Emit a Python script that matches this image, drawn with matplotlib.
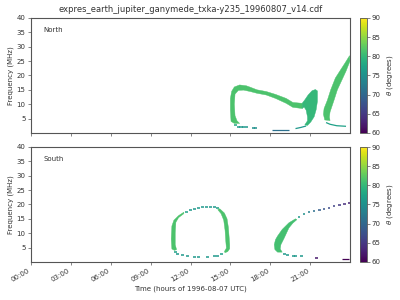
import numpy as np
import matplotlib
matplotlib.use('Agg')
import matplotlib.pyplot as plt
from matplotlib.colors import Normalize
from matplotlib.cm import ScalarMappable

# Chart text
title = 'expres_earth_jupiter_ganymede_txka-y235_19960807_v14.cdf'
hour_ticks = [0, 3, 6, 9, 12, 15, 18, 21]
hour_labels = ['%02d:00' % h for h in hour_ticks]
freq_ticks = [5, 10, 15, 20, 25, 30, 35, 40]
theta_ticks = [60, 65, 70, 75, 80, 85, 90]

# ---- North hemisphere: filled emission regions (time in hours, freq in MHz, theta in deg)
north_loop_t = [15.05, 15.0, 15.0, 15.1, 15.3, 15.7, 16.2, 16.5, 17.0, 17.7, 18.4, 19.2, 19.7, 20.4,
                20.4, 19.7, 19.2, 18.4, 17.7, 17.0, 16.5, 16.0, 15.6, 15.35, 15.3, 15.35, 15.5, 15.7, 15.3]
north_loop_f = [4.0, 8.0, 12.0, 14.5, 16.0, 16.7, 16.4, 15.9, 15.0, 14.4, 13.4, 12.0, 10.6, 10.3,
                8.5, 8.9, 10.3, 12.0, 13.2, 13.8, 14.4, 14.9, 14.8, 13.5, 10.0, 6.0, 4.2, 3.3, 3.3]
north_loop_theta = 81.5

north_blob_t = [20.4, 20.6, 20.85, 21.15, 21.4, 21.55, 21.55, 21.45, 21.3, 21.05, 20.8, 20.6,
                20.8, 20.8, 20.7, 20.55, 20.4]
north_blob_f = [10.3, 11.5, 13.2, 14.7, 15.1, 14.6, 11.0, 8.0, 5.6, 3.8, 2.6, 2.8,
                4.2, 5.6, 7.9, 9.0, 8.5]
north_blob_theta = 80

north_arc_t = [22.1, 22.0, 22.05, 22.3, 22.55, 22.9, 23.3, 23.65, 23.97,
               24.0, 23.7, 23.35, 23.05, 22.8, 22.5, 22.45, 22.5]
north_arc_f = [4.5, 6.5, 8.5, 11.4, 15.0, 19.1, 22.0, 24.5, 26.9,
               25.0, 21.5, 18.0, 15.0, 11.4, 7.3, 5.5, 4.3]
north_arc_theta = 81.5

# North: thin / dashed traces
north_dash_t = [15.4, 15.6, 15.8, 16.0, 16.2, 16.75, 16.9]
north_dash_f = [2.6, 2.2, 2.0, 1.9, 1.9, 1.6, 1.6]
north_dash_theta = [78, 76, 76, 76, 76, 75, 75]

north_low_t = [18.1, 19.4]
north_low_f = [1.15, 1.15]
north_low_theta = 71

north_blob_tail_t = [19.9, 20.3, 20.7]
north_blob_tail_f = [1.5, 1.9, 2.4]
north_blob_tail_theta = 76

north_arc_tail_t = [22.2, 22.5, 23.0, 23.7]
north_arc_tail_f = [3.6, 3.0, 2.5, 2.3]
north_arc_tail_theta = 77

# ---- South hemisphere
south_left_t = [10.6, 10.55, 10.6, 10.75, 11.1, 11.5, 11.5, 11.1, 10.9, 10.85, 10.85, 10.95, 10.8]
south_left_f = [4.5, 8.0, 12.5, 14.5, 16.1, 17.3, 16.8, 15.4, 13.8, 10.0, 6.0, 4.3, 4.0]
south_left_theta = 81.5

south_right_t = [14.2, 14.55, 14.75, 14.85, 14.9, 14.95, 14.95, 14.8, 14.6,
                 14.55, 14.7, 14.65, 14.6, 14.5, 14.3, 14.05]
south_right_f = [18.5, 17.0, 15.0, 12.0, 9.0, 6.0, 4.6, 3.6, 3.2,
                 3.6, 4.8, 7.5, 11.0, 14.5, 16.8, 18.2]
south_right_theta = 81.5

south_band_t = [18.55, 18.35, 18.3, 18.4, 18.55, 18.9, 19.4, 19.9,
                20.0, 19.7, 19.4, 19.05, 18.8, 18.75, 18.9]
south_band_f = [3.4, 4.3, 6.0, 7.8, 9.0, 11.3, 13.6, 15.0,
                14.7, 13.5, 11.8, 8.3, 6.0, 4.5, 3.4]
south_band_theta = 81

# South: dashed traces
south_top_t = [11.7, 12.0, 12.3, 12.6, 12.9, 13.2, 13.5, 13.8, 14.05]
south_top_f = [17.5, 18.0, 18.4, 18.8, 19.0, 19.2, 19.2, 19.0, 18.7]
south_top_theta = [77, 76, 76, 76, 76, 76, 76, 76, 77]

south_bottom_t = [10.85, 11.05, 11.4, 11.8, 12.3, 12.6, 13.3, 13.8, 14.05, 14.35]
south_bottom_f = [3.6, 2.9, 2.3, 1.9, 1.8, 1.8, 1.8, 2.0, 2.2, 2.7]
south_bottom_theta = [77, 76, 76, 76, 76, 76, 76, 76, 76, 77]

south_tail_t = [20.15, 20.55, 20.9, 21.3, 21.7, 22.05, 22.4, 22.8, 23.2, 23.6, 23.95]
south_tail_f = [15.8, 16.8, 17.2, 17.7, 18.1, 18.5, 18.9, 19.3, 19.7, 20.2, 20.6]
south_tail_theta = [76, 75, 73, 71, 69, 68, 67, 66, 65, 64, 63]

south_low_t = [19.05, 19.3, 19.75, 19.9, 20.35, 21.45]
south_low_f = [2.6, 2.5, 2.2, 2.2, 2.0, 1.5]
south_low_theta = [76, 76, 76, 76, 76, 62]

south_end_t = [23.4, 23.95]
south_end_f = [1.1, 1.1]
south_end_theta = 60

# ---- Plot
cmap = plt.get_cmap('viridis')
norm = Normalize(vmin=60, vmax=90)
text_color = '#333333'
plt.rcParams['font.size'] = 5
plt.rcParams['axes.edgecolor'] = '#555555'
plt.rcParams['xtick.color'] = '#555555'
plt.rcParams['ytick.color'] = '#555555'
plt.rcParams['xtick.labelcolor'] = text_color
plt.rcParams['ytick.labelcolor'] = text_color

fig = plt.figure(figsize=(4, 3), dpi=100)
ax_n = fig.add_axes([0.0775, 0.557, 0.7975, 0.383])
ax_s = fig.add_axes([0.0775, 0.127, 0.7975, 0.383])
cax_n = fig.add_axes([0.9, 0.557, 0.017, 0.383])
cax_s = fig.add_axes([0.9, 0.127, 0.017, 0.383])


def fill_region(ax, t, f, theta):
    ax.fill(t, f, color=cmap(norm(theta)), lw=0.3, ec=cmap(norm(theta)))


def dash_points(ax, t, f, theta, size=5):
    ax.scatter(t, f, c=theta, cmap=cmap, norm=norm, marker='_', s=size, linewidths=1.1)


def thin_line(ax, t, f, theta, lw=0.9):
    ax.plot(t, f, color=cmap(norm(theta)), lw=lw, solid_capstyle='butt')


# North panel
fill_region(ax_n, north_loop_t, north_loop_f, north_loop_theta)
fill_region(ax_n, north_blob_t, north_blob_f, north_blob_theta)
fill_region(ax_n, north_arc_t, north_arc_f, north_arc_theta)
dash_points(ax_n, north_dash_t, north_dash_f, north_dash_theta)
thin_line(ax_n, north_low_t, north_low_f, north_low_theta)
thin_line(ax_n, north_blob_tail_t, north_blob_tail_f, north_blob_tail_theta)
thin_line(ax_n, north_arc_tail_t, north_arc_tail_f, north_arc_tail_theta)

# South panel
fill_region(ax_s, south_left_t, south_left_f, south_left_theta)
fill_region(ax_s, south_right_t, south_right_f, south_right_theta)
fill_region(ax_s, south_band_t, south_band_f, south_band_theta)
dash_points(ax_s, south_top_t, south_top_f, south_top_theta)
dash_points(ax_s, south_bottom_t, south_bottom_f, south_bottom_theta)
dash_points(ax_s, south_tail_t, south_tail_f, south_tail_theta, size=3)
dash_points(ax_s, south_low_t, south_low_f, south_low_theta)
thin_line(ax_s, south_end_t, south_end_f, south_end_theta)

for ax, name in [(ax_n, 'North'), (ax_s, 'South')]:
    ax.set_xlim(0, 24)
    ax.set_ylim(0, 40)
    ax.set_xticks(hour_ticks)
    ax.set_yticks(freq_ticks)
    ax.set_ylabel('Frequency (MHz)', fontsize=5, color=text_color, labelpad=1.5)
    ax.tick_params(length=2.5, width=0.5, pad=1.5)
    for sp in ax.spines.values():
        sp.set_linewidth(0.8)
    ax.text(0.04, 0.88, name, transform=ax.transAxes, fontsize=5, color=text_color)

ax_n.set_xticklabels([])
ax_s.set_xticklabels(hour_labels, rotation=30, ha='right')
ax_s.set_xlabel('Time (hours of 1996-08-07 UTC)', fontsize=5, color=text_color, labelpad=2)
ax_n.set_title(title, fontsize=6, color=text_color, pad=4)

for cax in (cax_n, cax_s):
    cb = fig.colorbar(ScalarMappable(norm=norm, cmap=cmap), cax=cax, ticks=theta_ticks)
    cb.set_label(r'$\theta$ (degrees)', fontsize=5, color=text_color, labelpad=3)
    cb.ax.tick_params(length=2, width=0.5, pad=1.5)
    cb.outline.set_linewidth(0.6)

fig.savefig('out.png', dpi=100)
